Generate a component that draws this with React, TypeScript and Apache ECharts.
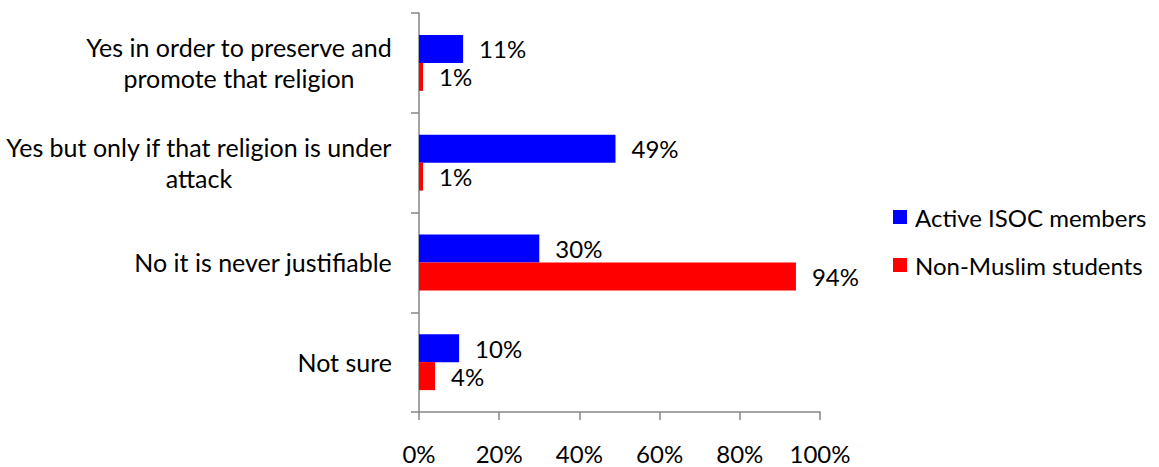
import React, { useEffect, useRef } from "react";
import * as echarts from "echarts";

const categories = [
  "Yes in order to preserve and\npromote that religion",
  "Yes but only if that religion is under\nattack",
  "No it is never justifiable",
  "Not sure",
];
const activeIsoc = [11, 49, 30, 10];
const nonMuslim = [1, 1, 94, 4];
const xTicks = [0, 20, 40, 60, 80, 100];
const seriesNames = ["Active ISOC members", "Non-Muslim students"];

const FONT = "Lato";
const FS = 24;
const AXIS = "#868686";

export default function App() {
  const ref = useRef<HTMLDivElement>(null);
  useEffect(() => {
    document.body.style.margin = "0";
    const chart = echarts.init(ref.current!, null, { renderer: "svg" });
    chart.setOption({
      animation: false,
      textStyle: { fontFamily: FONT },
      grid: { left: 419, right: 339, top: 13, bottom: 55, containLabel: false },
      legend: {
        orient: "vertical",
        left: 888,
        top: 200,
        itemWidth: 14,
        itemHeight: 14,
        itemGap: 24,
        icon: "rect",
        data: seriesNames,
        textStyle: { fontFamily: FONT, fontSize: FS, color: "#000", lineHeight: 24, padding: [0, 0, 0, 3] },
      },
      xAxis: {
        type: "value",
        min: xTicks[0],
        max: xTicks[xTicks.length - 1],
        interval: 20,
        splitLine: { show: false },
        axisLine: { show: true, lineStyle: { color: AXIS, width: 1.5 } },
        axisTick: { show: true, length: 8, lineStyle: { color: AXIS, width: 1.5 } },
        axisLabel: {
          formatter: "{value}%",
          fontFamily: FONT,
          fontSize: FS,
          color: "#000",
          margin: 29,
        },
      },
      yAxis: {
        type: "category",
        inverse: true,
        data: categories,
        axisLine: { show: true, lineStyle: { color: AXIS, width: 1.5 } },
        axisTick: { show: true, length: 8, lineStyle: { color: AXIS, width: 1.5 } },
        axisLabel: {
          margin: 27,
          formatter: (v: string) => `{c|${v}}`,
          rich: {
            c: { align: "center", fontFamily: FONT, fontSize: 25, lineHeight: 31, color: "#000" },
          },
        },
      },
      series: [
        {
          name: seriesNames[0],
          type: "bar",
          data: activeIsoc,
          barWidth: 28,
          barGap: "0%",
          itemStyle: { color: "#0000FF" },
          label: {
            show: true,
            position: "right",
            distance: 16,
            formatter: "{c}%",
            fontFamily: FONT,
            fontSize: FS,
            color: "#000",
          },
        },
        {
          name: seriesNames[1],
          type: "bar",
          data: nonMuslim,
          barWidth: 28,
          barGap: "0%",
          itemStyle: { color: "#FF0000" },
          label: {
            show: true,
            position: "right",
            distance: 16,
            formatter: "{c}%",
            fontFamily: FONT,
            fontSize: FS,
            color: "#000",
          },
        },
      ],
    });
    return () => chart.dispose();
  }, []);
  return <div ref={ref} style={{ width: 1159, height: 467 }} />;
}
